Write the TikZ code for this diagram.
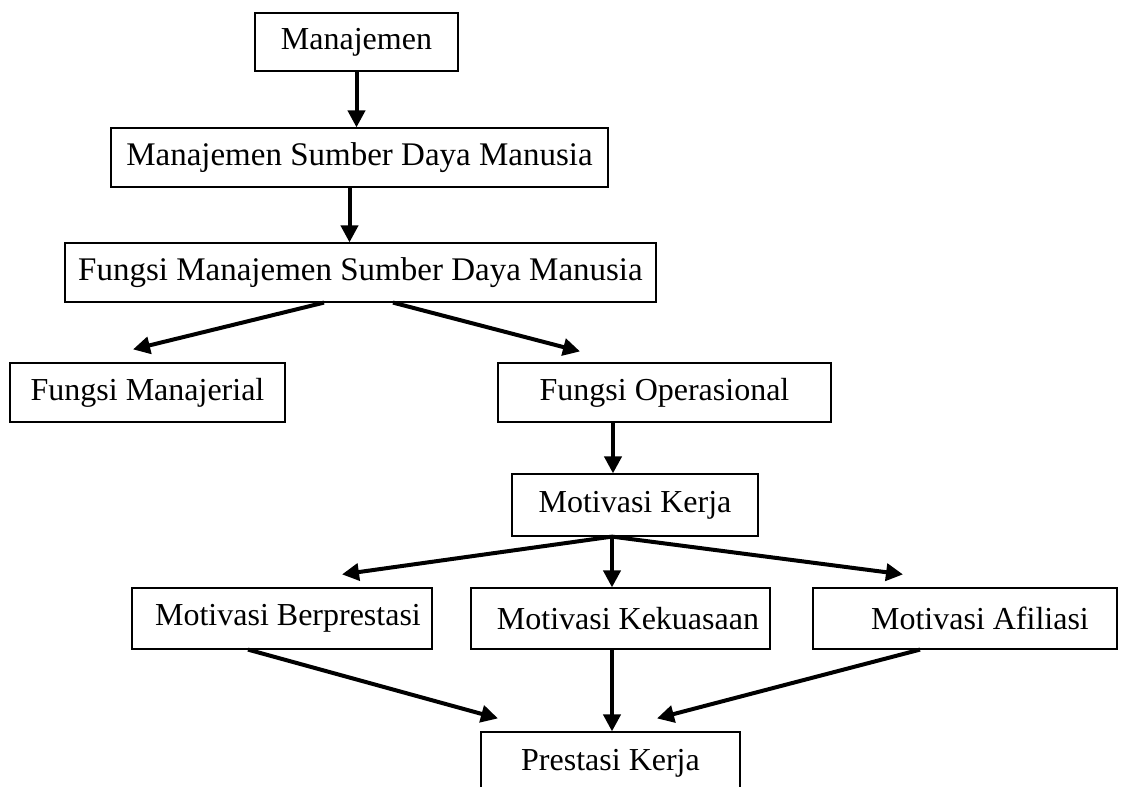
\documentclass[tikz,border=0pt]{standalone}
\usepackage{fontspec}
\setmainfont{Liberation Serif}
\usetikzlibrary{arrows.meta}
\begin{document}
\begin{tikzpicture}[x=1pt,y=-1pt,
  box/.style={draw=black, line width=1.2pt, inner sep=0pt, minimum height=59pt,
    font=\fontsize{32}{37}\selectfont, anchor=center},
  wide/.style={font=\fontsize{33}{38}\selectfont},
  arr/.style={line width=4pt, -{Triangle[length=17pt,width=17pt]}}]
\clip (0,0) rectangle (1125,787);
\fill[white] (0,0) rectangle (1125,787);
% boxes
\node[box, minimum width=203pt, minimum height=58pt] (man) at (356.5,42) {Manajemen};
\node[box, wide, minimum width=497pt] (msdm) at (359.5,157.5) {Manajemen Sumber Daya Manusia};
\node[box, wide, minimum width=591pt] (fmsdm) at (360.5,272.5) {Fungsi Manajemen Sumber Daya Manusia};
\node[box, minimum width=275pt] (fm) at (147.5,392.5) {Fungsi Manajerial};
\node[box, minimum width=333pt] (fo) at (664.5,392.5) {Fungsi Operasional};
\node[box, minimum width=246pt, minimum height=62pt] (mk) at (635,505) {Motivasi Kerja};
\node[box, minimum width=300pt, minimum height=61pt] (mb) at (282,618.5) {\hspace*{12pt}Motivasi Berprestasi};
\node[box, minimum width=299pt, minimum height=61pt] (mkk) at (620.5,618.5) {\hspace*{15pt}Motivasi Kekuasaan};
\node[box, minimum width=304pt, minimum height=61pt] (ma) at (965,618.5) {\hspace*{30pt}Motivasi Afiliasi};
\node[box, minimum width=259pt, minimum height=63pt] (pk) at (610.5,763.5) {Prestasi Kerja};
% connectors
\draw[arr] (man.south) -- (man.south |- msdm.north);
\draw[arr] ([xshift=-10pt]msdm.south) -- ([xshift=-10pt]msdm.south |- fmsdm.north);
\draw[arr] ([xshift=-36.5pt]fmsdm.south) -- ([xshift=-14.5pt,yshift=13pt]fm.north);
\draw[arr] ([xshift=32.5pt]fmsdm.south) -- ([xshift=-84.5pt,yshift=11pt]fo.north);
\draw[arr] ([xshift=-51.5pt]fo.south) -- ([xshift=-51.5pt]fo.south |- mk.north);
\coordinate (mks) at ([xshift=-23pt]mk.south);
\draw[arr] (mks) -- ([xshift=60pt,yshift=13pt]mb.north);
\draw[arr] (mks) -- (mks |- mkk.north);
\draw[arr] (mks) -- ([xshift=-62pt,yshift=13pt]ma.north);
\draw[arr] ([xshift=-34pt]mb.south) -- ([xshift=-112.5pt,yshift=13pt]pk.north);
\draw[arr] ([xshift=-8.5pt]mkk.south) -- ([xshift=-8.5pt]mkk.south |- pk.north);
\draw[arr] ([xshift=-45pt]ma.south) -- ([xshift=46.5pt,yshift=13pt]pk.north);
\end{tikzpicture}
\end{document}
